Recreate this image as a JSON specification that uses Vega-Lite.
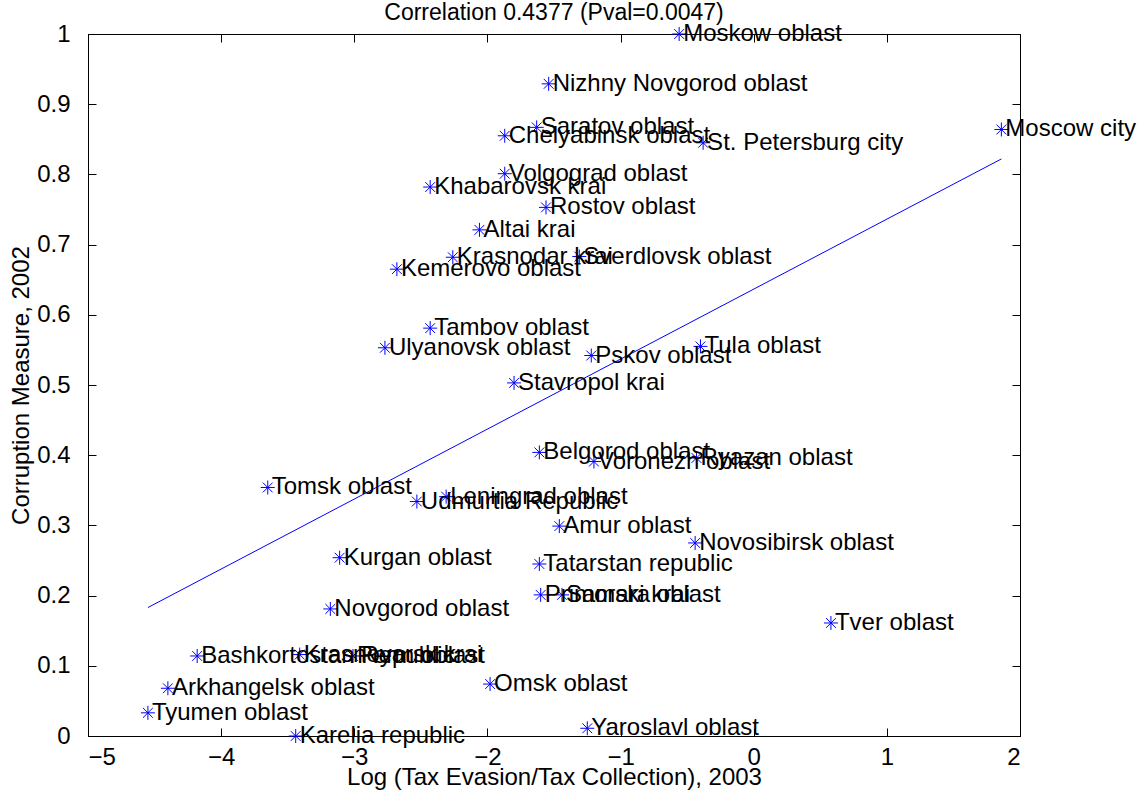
{
  "$schema": "https://vega.github.io/schema/vega-lite/v6.json",
  "autosize": {"type": "none"},
  "width": 932,
  "height": 702,
  "padding": {"left": 88, "top": 34, "right": 124, "bottom": 69},
  "background": "white",
  "title": {"text": "Correlation 0.4377 (Pval=0.0047)", "fontSize": 23, "fontWeight": "normal", "font": "Liberation Sans", "color": "black", "offset": -3},
  "datasets": {
    "pts": [
      {"name": "Moskow oblast", "x": -0.56, "y": 1.0},
      {"name": "Nizhny Novgorod oblast", "x": -1.54, "y": 0.929},
      {"name": "Saratov oblast", "x": -1.63, "y": 0.867},
      {"name": "Chelyabinsk oblast", "x": -1.87, "y": 0.855},
      {"name": "St. Petersburg city", "x": -0.38, "y": 0.845},
      {"name": "Moscow city", "x": 1.86, "y": 0.864},
      {"name": "Volgograd oblast", "x": -1.87, "y": 0.801},
      {"name": "Khabarovsk krai", "x": -2.43, "y": 0.782},
      {"name": "Rostov oblast", "x": -1.56, "y": 0.753},
      {"name": "Altai krai", "x": -2.06, "y": 0.721},
      {"name": "Krasnodar krai", "x": -2.26, "y": 0.682},
      {"name": "Sverdlovsk oblast", "x": -1.31, "y": 0.683},
      {"name": "Kemerovo oblast", "x": -2.68, "y": 0.665},
      {"name": "Tambov oblast", "x": -2.43, "y": 0.581},
      {"name": "Ulyanovsk oblast", "x": -2.77, "y": 0.553},
      {"name": "Pskov oblast", "x": -1.22, "y": 0.542},
      {"name": "Tula oblast", "x": -0.40, "y": 0.555},
      {"name": "Stavropol krai", "x": -1.80, "y": 0.503},
      {"name": "Belgorod oblast", "x": -1.61, "y": 0.404},
      {"name": "Voronezh oblast", "x": -1.20, "y": 0.391},
      {"name": "Ryazan oblast", "x": -0.43, "y": 0.396},
      {"name": "Tomsk oblast", "x": -3.65, "y": 0.354},
      {"name": "Udmurtia Republic", "x": -2.53, "y": 0.334},
      {"name": "Leningrad oblast", "x": -2.31, "y": 0.341},
      {"name": "Amur oblast", "x": -1.46, "y": 0.299},
      {"name": "Novosibirsk oblast", "x": -0.44, "y": 0.275},
      {"name": "Kurgan oblast", "x": -3.11, "y": 0.254},
      {"name": "Tatarstan republic", "x": -1.61, "y": 0.245},
      {"name": "Primorski krai", "x": -1.60, "y": 0.201},
      {"name": "Samara oblast", "x": -1.44, "y": 0.201},
      {"name": "Novgorod oblast", "x": -3.18, "y": 0.181},
      {"name": "Tver oblast", "x": 0.58, "y": 0.161},
      {"name": "Bashkortostan Republic", "x": -4.18, "y": 0.114},
      {"name": "Krasnoyarsk krai", "x": -3.41, "y": 0.116},
      {"name": "Perm oblast", "x": -3.01, "y": 0.114},
      {"name": "Omsk oblast", "x": -1.98, "y": 0.074},
      {"name": "Arkhangelsk oblast", "x": -4.40, "y": 0.068},
      {"name": "Tyumen oblast", "x": -4.55, "y": 0.033},
      {"name": "Karelia republic", "x": -3.44, "y": 0.0},
      {"name": "Yaroslavl oblast", "x": -1.25, "y": 0.011}
    ],
    "fit": [
      {"x": -4.55, "y": 0.183},
      {"x": 1.86, "y": 0.822}
    ]
  },
  "layer": [
    {
      "data": {"name": "fit"},
      "mark": {"type": "line", "color": "#0000ff", "strokeWidth": 1, "clip": false},
      "encoding": {
        "x": {"field": "x", "type": "quantitative", "scale": {"domain": [-5, 2], "nice": false, "zero": false},
              "axis": {"orient": "top", "labels": false, "title": null, "values": [-5, -4, -3, -2, -1, 0, 1, 2], "tickSize": -8, "domainColor": "black", "tickColor": "black", "grid": false}},
        "y": {"field": "y", "type": "quantitative", "scale": {"domain": [0, 1], "nice": false, "zero": false},
              "axis": {"orient": "right", "labels": false, "title": null, "values": [0, 0.1, 0.2, 0.3, 0.4, 0.5, 0.6, 0.7, 0.8, 0.9, 1], "tickSize": -8, "domainColor": "black", "tickColor": "black", "grid": false}}
      }
    },
    {
      "data": {"name": "pts"},
      "mark": {"type": "point", "shape": "M-1,0L1,0M0,-1L0,1M-0.7,-0.7L0.7,0.7M-0.7,0.7L0.7,-0.7", "filled": false, "color": "#0000ff", "strokeWidth": 1, "size": 196, "opacity": 1, "clip": false},
      "encoding": {
        "x": {"field": "x", "type": "quantitative", "scale": {"domain": [-5, 2], "nice": false, "zero": false},
              "axis": {"orient": "bottom", "title": "Log (Tax Evasion/Tax Collection), 2003", "values": [-5, -4, -3, -2, -1, 0, 1, 2], "format": "~g", "tickSize": -8, "labelPadding": 17, "titlePadding": -4}},
        "y": {"field": "y", "type": "quantitative", "scale": {"domain": [0, 1], "nice": false, "zero": false},
              "axis": {"orient": "left", "title": "Corruption Measure, 2002", "values": [0, 0.1, 0.2, 0.3, 0.4, 0.5, 0.6, 0.7, 0.8, 0.9, 1], "format": "~g", "tickSize": -8, "labelPadding": 26, "titlePadding": 3}}
      }
    },
    {
      "data": {"name": "pts"},
      "mark": {"type": "text", "align": "left", "baseline": "middle", "dx": 4, "fontSize": 24, "font": "Liberation Sans", "color": "black", "clip": false},
      "encoding": {
        "x": {"field": "x", "type": "quantitative", "scale": {"domain": [-5, 2], "nice": false, "zero": false}, "axis": null},
        "y": {"field": "y", "type": "quantitative", "scale": {"domain": [0, 1], "nice": false, "zero": false}, "axis": null},
        "text": {"field": "name"}
      }
    }
  ],
  "resolve": {"axis": {"x": "independent", "y": "independent"}},
  "config": {
    "view": {"stroke": "black", "strokeWidth": 1},
    "axis": {
      "domainColor": "black",
      "tickColor": "black",
      "grid": false,
      "labelColor": "black",
      "labelFont": "Liberation Sans",
      "labelFontSize": 24,
      "titleFont": "Liberation Sans",
      "titleFontSize": 24,
      "titleFontWeight": "normal",
      "titleColor": "black"
    }
  }
}
